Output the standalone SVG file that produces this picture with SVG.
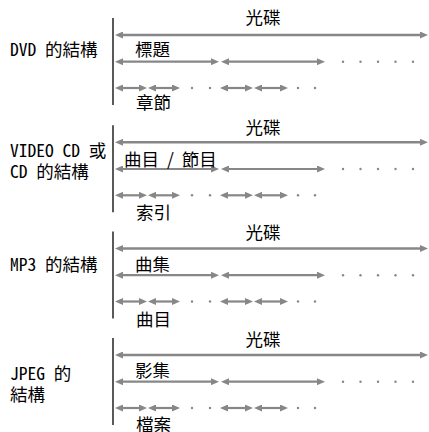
<svg xmlns="http://www.w3.org/2000/svg" width="429" height="432" viewBox="0 0 429 432">
<style>
  .cjk { font-family: "Noto Sans CJK TC", "Noto Sans CJK JP", sans-serif; font-size: 17.5px; fill: #000; }
  .lat { font-family: "Noto Sans CJK JP", "Noto Sans CJK TC", sans-serif; font-feature-settings: "hwid" 1; }
  .ar { stroke: #878787; stroke-width: 2.2; fill: none; marker-start: url(#ah); marker-end: url(#ah); }
  .top { stroke: #878787; stroke-width: 2.5; fill: none; marker-start: url(#ah); marker-end: url(#ah); }
  .dot { fill: #878787; }
  .vl { stroke: #000; stroke-width: 1.3; }
</style>
<defs>
  <marker id="ah" viewBox="0 0 8 7" refX="3" refY="3.5" markerWidth="8" markerHeight="7" markerUnits="userSpaceOnUse" orient="auto-start-reverse">
    <path d="M0,0 L8,3.5 L0,7 z" fill="#878787"/>
  </marker>
  <g id="rows">
    <line class="top" x1="120" y1="0" x2="423" y2="0"/>
    <line class="ar" x1="120" y1="26.7" x2="214" y2="26.7"/>
    <line class="ar" x1="226" y1="26.7" x2="320" y2="26.7"/>
    <circle class="dot" cx="343" cy="26.7" r="1.2"/>
    <circle class="dot" cx="360.5" cy="26.7" r="1.2"/>
    <circle class="dot" cx="378" cy="26.7" r="1.2"/>
    <circle class="dot" cx="395.5" cy="26.7" r="1.2"/>
    <circle class="dot" cx="413" cy="26.7" r="1.2"/>
    <line class="ar" x1="120" y1="53" x2="142" y2="53"/>
    <line class="ar" x1="153" y1="53" x2="175" y2="53"/>
    <circle class="dot" cx="192" cy="53" r="1.2"/>
    <circle class="dot" cx="210" cy="53" r="1.2"/>
    <line class="ar" x1="225" y1="53" x2="248" y2="53"/>
    <line class="ar" x1="259" y1="53" x2="283" y2="53"/>
    <circle class="dot" cx="298" cy="53" r="1.2"/>
    <circle class="dot" cx="315" cy="53" r="1.2"/>
    <line class="vl" x1="113" y1="-17" x2="113" y2="70"/>
  </g>
</defs>

<g id="connectors">
  <use href="#rows" transform="translate(0,35)"/>
  <use href="#rows" transform="translate(0,142.3)"/>
  <use href="#rows" transform="translate(0,248.5)"/>
  <use href="#rows" transform="translate(0,355)"/>
</g>

<g id="dvd">
  <text class="cjk lat" x="10" y="56">DVD 的結構</text>
  <text class="cjk" x="263" y="24" text-anchor="middle">光碟</text>
  <text class="cjk" x="135" y="56">標題</text>
  <text class="cjk" x="136" y="109">章節</text>
</g>

<g id="vcd">
  <text class="cjk lat" x="10" y="157"><tspan x="10" y="157">VIDEO CD 或</tspan><tspan x="10" y="178">CD 的結構</tspan></text>
  <text class="cjk" x="263" y="133.5" text-anchor="middle">光碟</text>
  <text class="cjk" x="124" y="166" style="word-spacing:4px">曲目 / 節目</text>
  <text class="cjk" x="136" y="219">索引</text>
</g>

<g id="mp3">
  <text class="cjk lat" x="10" y="271">MP3 的結構</text>
  <text class="cjk" x="263" y="239" text-anchor="middle">光碟</text>
  <text class="cjk" x="135" y="271">曲集</text>
  <text class="cjk" x="136" y="326">曲目</text>
</g>

<g id="jpeg">
  <text class="cjk lat" x="10" y="380"><tspan x="10" y="380">JPEG 的</tspan><tspan x="10" y="401">結構</tspan></text>
  <text class="cjk" x="263" y="346" text-anchor="middle">光碟</text>
  <text class="cjk" x="135" y="377">影集</text>
  <text class="cjk" x="136" y="430.5">檔案</text>
</g>
</svg>
